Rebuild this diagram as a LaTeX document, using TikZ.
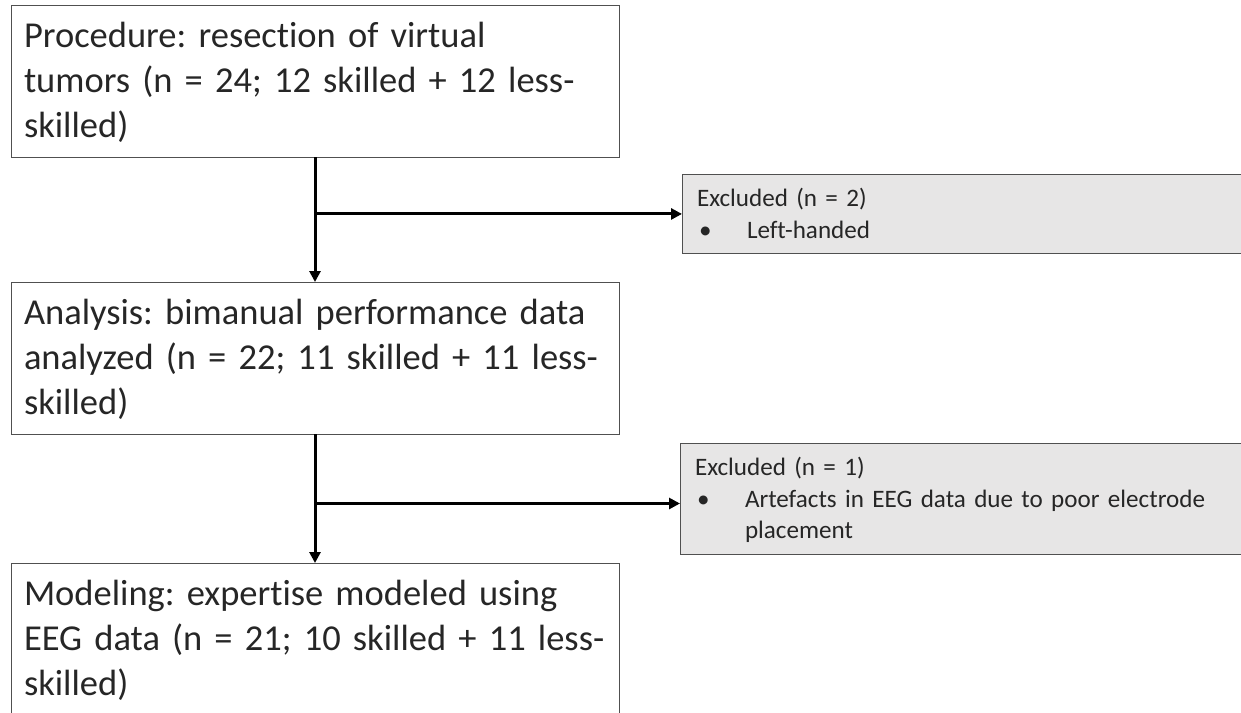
\documentclass[tikz,border=0pt]{standalone}
\usepackage{fontspec}
\setmainfont{Carlito}[Ligatures=NoCommon]
\usetikzlibrary{arrows.meta}
\definecolor{edge}{HTML}{505050}
\definecolor{ink}{HTML}{262626}
\definecolor{exfill}{HTML}{E7E6E6}
\tikzset{
  stage/.style={draw=edge, line width=1pt, anchor=north west, outer sep=0pt,
    inner xsep=13pt, inner ysep=12pt, text width=582pt, align=left,
    text height=30pt, text depth=98pt, text=ink,
    font=\fontsize{36.5}{45}\selectfont\frenchspacing},
  exclusion/.style={draw=edge, fill=exfill, line width=1pt, anchor=north west,
    outer sep=0pt, inner xsep=15pt, inner ysep=10pt, text width=532pt,
    align=left, text height=22.7pt, text=ink,
    font=\fontsize{25.1}{31.5}\selectfont\frenchspacing},
  flow/.style={line width=3pt, -{Triangle[length=11pt,width=11pt]}},
}
\begin{document}
\begin{tikzpicture}[x=1pt,y=-1pt]
\useasboundingbox (0,0) rectangle (1241,712);

% main stages
\node[stage] (proc) at (11,5)
  {Procedure: resection of virtual\\ tumors (n = 24; 12 skilled + 12 less-\\ skilled)};
\node[stage] (anal) at (11,282)
  {Analysis: bimanual performance data\\ analyzed (n = 22; 11 skilled + 11 less-\\ skilled)};
\node[stage] (model) at (11,563)
  {Modeling: expertise modeled using\\ EEG data (n = 21; 10 skilled + 11 less-\\ skilled)};

% exclusions
\node[exclusion, text depth=37.2pt] (ex1) at (682,174)
  {Excluded (n = 2)\\ \makebox[50pt][l]{\hspace{2pt}\textbullet}Left-handed};
\node[exclusion, text depth=68.7pt] (ex2) at (680,443)
  {Excluded (n = 1)\\ \makebox[50pt][l]{\hspace{2pt}\textbullet}Artefacts in EEG data due to poor electrode\\ \hspace*{50pt}placement};

% flow
\draw[flow] (proc.south) -- (anal.north);
\coordinate (j1) at (proc.south |- ex1.west);
\draw[flow] (j1) -- (ex1.west);

\draw[flow] (anal.south) -- (model.north);
\path (anal.south) ++(0,69.5) coordinate (j2);
\draw[flow] (j2) -- (j2 -| ex2.west);
\end{tikzpicture}
\end{document}
